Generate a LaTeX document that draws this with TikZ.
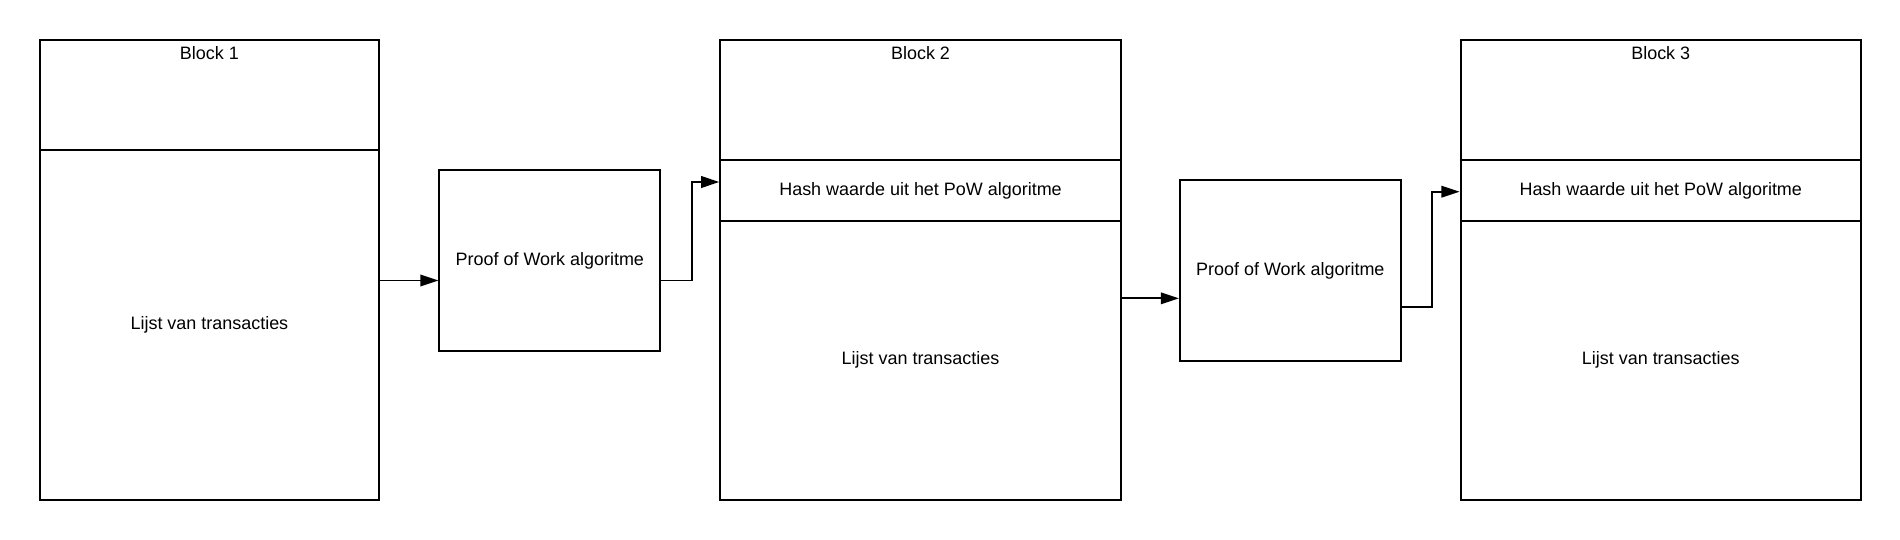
\documentclass[tikz,border=0pt]{standalone}
\usepackage{fontspec}
\setmainfont{Liberation Sans}
\usetikzlibrary{arrows.meta}

\begin{document}
\begin{tikzpicture}[x=1pt,y=-1pt,
    every node/.style={font=\fontsize{14.8}{17}\selectfont},
    part/.style={draw,line width=1.6pt,inner sep=0pt,minimum width=330pt},
    powbox/.style={draw,line width=1.6pt,inner sep=0pt,minimum width=182pt,minimum height=148.6pt},
    link/.style={line width=1.6pt,-{Triangle[length=15pt,width=9.5pt]}}]
  \useasboundingbox (0,0) rectangle (1566,445);
  \draw
    (172.6,78.5) node[part,minimum width=280pt,minimum height=91pt] (head1){}
    (172.6,268) node[part,minimum width=280pt,minimum height=288pt] (list1){Lijst van transacties}
    (453.2,214.7) node[powbox] (pow1){Proof of Work algoritme}
    (758.7,82.5) node[part,minimum height=99pt] (head2){}
    (758.7,157) node[part,minimum height=50pt] (hash2){Hash waarde uit het PoW algoritme}
    (758.7,297) node[part,minimum height=230pt] (list2){Lijst van transacties}
    (1063.5,222.9) node[powbox] (pow2){Proof of Work algoritme}
    (1368.8,82.5) node[part,minimum height=99pt] (head3){}
    (1368.8,157) node[part,minimum height=50pt] (hash3){Hash waarde uit het PoW algoritme}
    (1368.8,297) node[part,minimum height=230pt] (list3){Lijst van transacties};
  \node (title1) at (172.6,44) {Block 1};
  \node (title2) at (758.7,44) {Block 2};
  \node (title3) at (1368.8,44) {Block 3};
  % where the connectors meet the boxes
  \coordinate (in1) at ([yshift=-16.5pt]pow1.west);
  \coordinate (out1) at ([yshift=-16.5pt]pow1.east);
  \coordinate (hit2) at ([yshift=7pt]hash2.west);
  \coordinate (in2) at ([yshift=-23pt]pow2.west);
  \coordinate (out2) at ([yshift=-30.3pt]pow2.east);
  \coordinate (hit3) at ([yshift=-1pt]hash3.west);
  \begin{scope}[link]
    \draw (list1.east |- in1) to (in1);
    \draw (out1) -- ++(25,0) |- (hit2);
    \draw (list2.east |- in2) to (in2);
    \draw (out2) -- ++(25,0) |- (hit3);
  \end{scope}
\end{tikzpicture}
\end{document}
